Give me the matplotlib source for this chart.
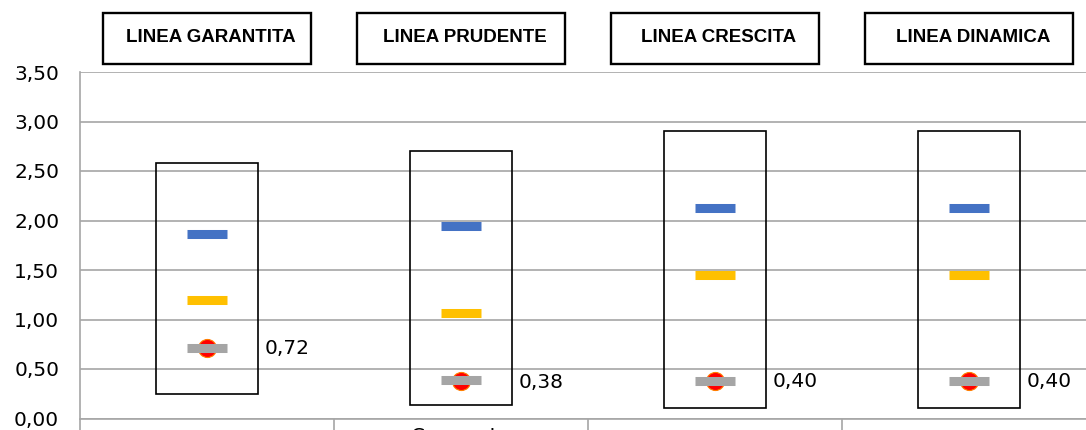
import matplotlib.pyplot as plt
from matplotlib.patches import Rectangle
from matplotlib.ticker import FuncFormatter
import matplotlib.transforms as mtransforms

linee = ['LINEA GARANTITA', 'LINEA PRUDENTE', 'LINEA CRESCITA', 'LINEA DINAMICA']
categorie = ['', 'Comparto', '', '']
box_min = [0.245, 0.14, 0.11, 0.11]
box_max = [2.58, 2.70, 2.90, 2.90]
blu = [1.86, 1.94, 2.13, 2.13]
giallo = [1.195, 1.07, 1.445, 1.445]
grigio = [0.715, 0.385, 0.38, 0.38]
punto = [0.715, 0.375, 0.38, 0.38]
etichette = ['0,72', '0,38', '0,40', '0,40']

W, H = 1086, 430
fig = plt.figure(figsize=(W / 100, H / 100), dpi=100)
ax = fig.add_axes([80 / W, 11.5 / H, 1016 / W, 346.5 / H])

xs = [i + 0.5 for i in range(len(linee))]
grid_col = '#a6a6a6'

# boxes from min to max
for x, lo, hi in zip(xs, box_min, box_max):
    ax.add_patch(Rectangle((x - 0.2, lo), 0.4, hi - lo, fill=False,
                           ec='black', lw=1.2, zorder=2))

ax.plot(xs, punto, 'o', ms=13, mfc='#ff0000', mec='#ff7f00', mew=0.8, ls='none', zorder=3)
ax.plot(xs, blu, '_', ms=29.5, mew=6.5, color='#4472c4', ls='none', zorder=4)
ax.plot(xs, giallo, '_', ms=29.5, mew=6.5, color='#ffc000', ls='none', zorder=4)
ax.plot(xs, grigio, '_', ms=29.5, mew=6.5, color='#a5a5a5', ls='none', zorder=4)

for x, y, t in zip(xs, punto, etichette):
    ax.text(x + 0.228, y - 0.01, t, ha='left', va='center', fontsize=14.5,
            family='DejaVu Sans', zorder=5)

# header boxes above the plot
trans = mtransforms.blended_transform_factory(ax.transData, ax.transAxes)
for x, name in zip(xs, linee):
    ax.add_patch(Rectangle((x - 0.41, 1.023), 0.82, 0.147, transform=trans,
                           fill=False, ec='black', lw=1.7, clip_on=False))
    ax.text(x + 0.015, 1.087, name, transform=trans, ha='center', va='baseline',
            fontsize=13.5, fontweight='bold', family='Liberation Sans')

ax.set_xlim(0, 4)
ax.set_ylim(0, 3.5)
ax.set_yticks([i * 0.5 for i in range(8)])
ax.yaxis.set_major_formatter(FuncFormatter(lambda v, p: f'{v:.2f}'.replace('.', ',')))
ax.tick_params(axis='y', length=0, pad=15, labelsize=14.5)
for lab in ax.get_yticklabels():
    lab.set_family('DejaVu Sans')

ax.set_xticks(range(5))
ax.set_xticklabels([])
ax.set_xticks(xs, minor=True)
ax.set_xticklabels(categorie, minor=True, fontsize=14.5, family='DejaVu Sans')
ax.tick_params(axis='x', which='major', length=15, color=grid_col, width=1.2)
ax.tick_params(axis='x', which='minor', length=0, pad=6)

ax.yaxis.grid(True, color=grid_col, lw=1.2)
ax.set_axisbelow(True)
for s in ['top', 'right']:
    ax.spines[s].set_visible(False)
ax.spines['left'].set_color(grid_col)
ax.spines['bottom'].set_color(grid_col)
ax.spines['left'].set_linewidth(1.2)
ax.spines['bottom'].set_linewidth(1.2)

fig.savefig('out.png', dpi=100)
